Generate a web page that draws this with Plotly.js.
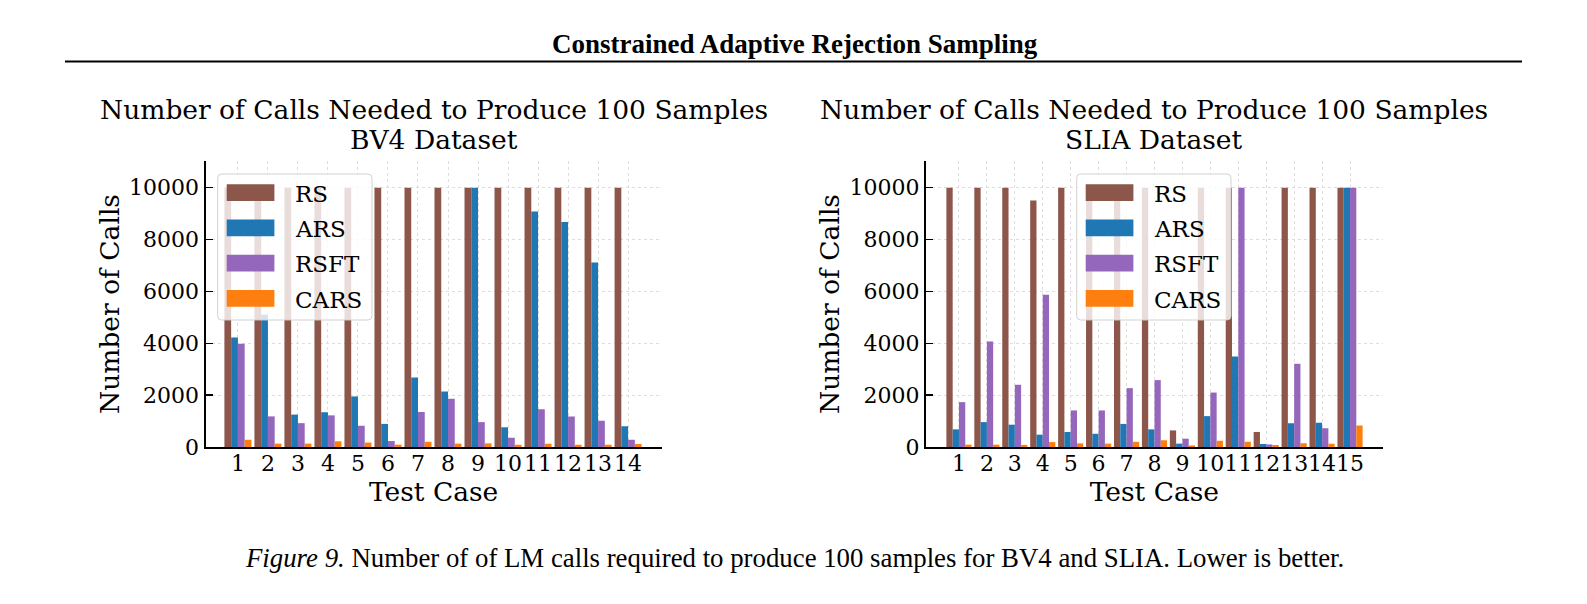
<!DOCTYPE html>
<html>
<head>
<meta charset="utf-8">
<script src="https://cdn.plot.ly/plotly-3.0.1.min.js"></script>
<style>html,body{margin:0;padding:0;background:#fff;}#chart{width:1587px;height:604px;}</style>
</head>
<body>
<div id="chart"></div>
<script>
// ---------- data ----------
const seriesNames = ["RS", "ARS", "RSFT", "CARS"];
const seriesColors = ["#8c564b", "#1f77b4", "#9467bd", "#ff7f0e"];

const bv4Cases = ["1","2","3","4","5","6","7","8","9","10","11","12","13","14"];
const bv4RS   = [10000,10000,10000,10000,10000,10000,10000,10000,10000,10000,10000,10000,10000,10000];
const bv4ARS  = [4220,5100,1250,1340,1950,890,2680,2140,10000,760,9080,8680,7120,800];
const bv4RSFT = [3980,1180,920,1220,820,230,1350,1860,960,360,1460,1180,1010,280];
const bv4CARS = [280,130,130,220,170,90,200,130,140,90,130,90,90,115];

const sliaCases = ["1","2","3","4","5","6","7","8","9","10","11","12","13","14","15"];
const sliaRS   = [10000,10000,10000,9510,10000,10000,10000,10000,640,10000,10000,580,10000,10000,10000];
const sliaARS  = [680,960,860,475,580,510,890,680,130,1190,3490,115,920,940,10000];
const sliaRSFT = [1730,4070,2400,5870,1410,1410,2270,2580,320,2100,10000,100,3210,720,10000];
const sliaCARS = [90,90,80,190,140,130,200,260,60,240,200,75,140,130,830];

const yTicks = [0,2000,4000,6000,8000,10000];

// ---------- helpers ----------
const W = 1587, H = 604;
const px = x => x / W;
const py = y => 1 - y / H;
const SERIF = "DejaVu Serif, serif";
const TIMES = "Liberation Serif, Times New Roman, serif";

function makeTraces(cases, seriesList, xa, ya) {
  const idx = cases.map((c, i) => i);
  return seriesList.map((vals, k) => ({
    type: "bar",
    x: idx,
    y: vals,
    name: seriesNames[k],
    marker: {color: seriesColors[k], line: {width: 0}},
    xaxis: xa, yaxis: ya,
    showlegend: false,
    hoverinfo: "skip"
  }));
}

const traces = [
  ...makeTraces(bv4Cases, [bv4RS, bv4ARS, bv4RSFT, bv4CARS], "x", "y"),
  ...makeTraces(sliaCases, [sliaRS, sliaARS, sliaRSFT, sliaCARS], "x2", "y2")
];

function xAxis(cases, domain, range, anchor) {
  return {
    domain: domain, range: range, anchor: anchor,
    tickmode: "array",
    tickvals: cases.map((c, i) => i),
    ticktext: cases,
    tickangle: 0,
    ticks: "", ticklabelstandoff: -4,
    tickfont: {family: SERIF, size: 22, color: "#000"},
    showgrid: true, gridcolor: "#dedede", gridwidth: 1, griddash: "dot",
    showline: true, linecolor: "#000", linewidth: 2,
    zeroline: false, fixedrange: true,
    title: {text: "Test Case", font: {family: SERIF, size: 26.5, color: "#000"}, standoff: 3}
  };
}
function yAxis(domain, anchor) {
  return {
    domain: domain, range: [0, 11030], anchor: anchor,
    tickmode: "array", tickvals: yTicks, ticktext: yTicks.map(String),
    ticks: "inside", ticklen: 7, tickwidth: 1.5, tickcolor: "#000",
    tickfont: {family: SERIF, size: 22, color: "#000"},
    showgrid: true, gridcolor: "#dedede", gridwidth: 1, griddash: "dot",
    showline: true, linecolor: "#000", linewidth: 2,
    zeroline: false, fixedrange: true,
    title: {text: "Number of Calls", font: {family: SERIF, size: 26.5, color: "#000"}, standoff: 2}
  };
}

const plotTop = 161, plotBot = 447;
const yDom = [py(plotBot), py(plotTop)];
const leftX = [205.5, 661.7], rightX = [926, 1382.7];

const shapes = [];
const annotations = [];

// header rule
shapes.push({type: "line", xref: "paper", yref: "paper", x0: px(65), x1: px(1522), y0: py(61.5), y1: py(61.5), line: {color: "#000", width: 2}});

function roundRectPath(x0, y0, x1, y1, r) {
  const P = (x, y) => px(x) + "," + py(y);
  return "M" + P(x0 + r, y0) + " L" + P(x1 - r, y0) + " Q" + P(x1, y0) + " " + P(x1, y0 + r) +
         " L" + P(x1, y1 - r) + " Q" + P(x1, y1) + " " + P(x1 - r, y1) +
         " L" + P(x0 + r, y1) + " Q" + P(x0, y1) + " " + P(x0, y1 - r) +
         " L" + P(x0, y0 + r) + " Q" + P(x0, y0) + " " + P(x0 + r, y0) + " Z";
}

function addLegend(bx, by) {
  const bw = 154.3, bh = 146;
  shapes.push({type: "path", xref: "paper", yref: "paper", layer: "above",
    path: roundRectPath(bx, by, bx + bw, by + bh, 4),
    fillcolor: "rgba(255,255,255,0.8)", line: {color: "rgba(204,204,204,0.9)", width: 1}});
  const rowY = [10.3, 45.5, 80.7, 116];
  seriesNames.forEach((nm, k) => {
    const sy = by + rowY[k];
    shapes.push({type: "rect", xref: "paper", yref: "paper", layer: "above",
      x0: px(bx + 9), x1: px(bx + 56.7), y0: py(sy), y1: py(sy + 16.7),
      fillcolor: seriesColors[k], line: {width: 0}});
    annotations.push({xref: "paper", yref: "paper", x: px(bx + 75.5), y: py(sy + 9.5),
      xanchor: "left", yanchor: "middle", showarrow: false, text: nm,
      font: {family: SERIF, size: 23, color: "#000"}});
  });
}
addLegend(217.7, 174);
addLegend(1076.7, 174);

function addTitle(xr, line2) {
  const cx = (xr[0] + xr[1]) / 2;
  annotations.push({xref: "paper", yref: "paper", x: px(cx), y: py(109.5), xanchor: "center", yanchor: "middle",
    showarrow: false, text: "Number of Calls Needed to Produce 100 Samples", font: {family: SERIF, size: 26.5, color: "#000"}});
  annotations.push({xref: "paper", yref: "paper", x: px(cx), y: py(139.5), xanchor: "center", yanchor: "middle",
    showarrow: false, text: line2, font: {family: SERIF, size: 26.5, color: "#000"}});
}
addTitle(leftX, "BV4 Dataset");
addTitle(rightX, "SLIA Dataset");

annotations.push({xref: "paper", yref: "paper", x: px(795), y: py(44), xanchor: "center", yanchor: "middle",
  showarrow: false, text: "<b>Constrained Adaptive Rejection Sampling</b>",
  font: {family: TIMES, size: 27, color: "#000"}});
annotations.push({xref: "paper", yref: "paper", x: px(794), y: py(558), xanchor: "center", yanchor: "middle",
  showarrow: false, text: "<i>Figure 9.</i> Number of of LM calls required to produce 100 samples for BV4 and SLIA. Lower is better.",
  font: {family: TIMES, size: 26.8, color: "#000"}});

const layout = {
  width: W, height: H,
  margin: {l: 0, r: 0, t: 0, b: 0},
  paper_bgcolor: "#fff", plot_bgcolor: "#fff",
  barmode: "group", bargap: 0.1, bargroupgap: 0,
  showlegend: false,
  xaxis: xAxis(bv4Cases, [px(leftX[0]), px(leftX[1])], [-1.08, 14.12], "y"),
  yaxis: yAxis(yDom, "x"),
  xaxis2: xAxis(sliaCases, [px(rightX[0]), px(rightX[1])], [-1.18, 15.17], "y2"),
  yaxis2: yAxis(yDom, "x2"),
  shapes: shapes,
  annotations: annotations
};

Plotly.newPlot("chart", traces, layout, {displayModeBar: false, staticPlot: true});
</script>
</body>
</html>
